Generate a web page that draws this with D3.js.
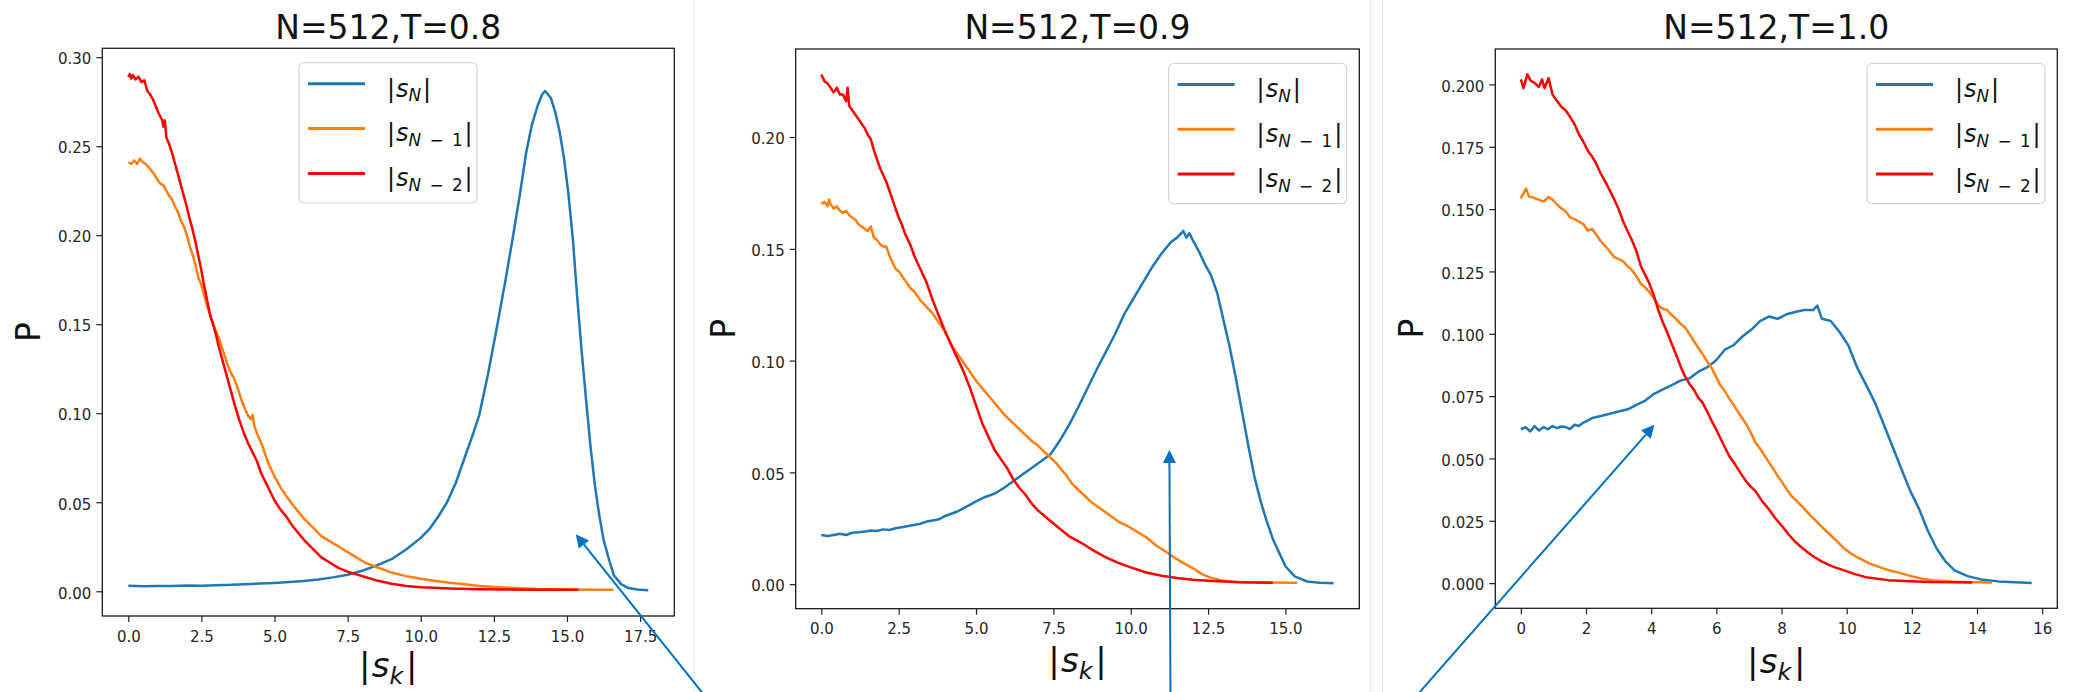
<!DOCTYPE html>
<html><head><meta charset="utf-8">
<script src="https://cdn.jsdelivr.net/npm/d3@7"></script>
<style>body{margin:0;background:#fff}svg{display:block}</style>
</head><body>
<svg id="chart" width="2073" height="692"></svg>
<script>
// ---------------- DATA ----------------
const titles = ["N=512,T=0.8", "N=512,T=0.9", "N=512,T=1.0"];
const xTicks08 = [0, 2.5, 5, 7.5, 10, 12.5, 15, 17.5];
const xTicks09 = [0, 2.5, 5, 7.5, 10, 12.5, 15];
const xTicks10 = [0, 2, 4, 6, 8, 10, 12, 14, 16];
const yTicks08 = [0, 0.05, 0.10, 0.15, 0.20, 0.25, 0.30];
const yTicks09 = [0, 0.05, 0.10, 0.15, 0.20];
const yTicks10 = [0, 0.025, 0.05, 0.075, 0.10, 0.125, 0.15, 0.175, 0.20];

// T = 0.8
const t08_sN_x = [0,0.5,1,1.5,2,2.5,3,3.5,4,4.5,5,5.5,6,6.5,7,7.5,8,8.5,9,9.5,10,10.3,10.6,10.9,11.2,11.5,11.8,12.0,12.3,12.6,12.9,13.15,13.4,13.6,13.8,14.0,14.15,14.25,14.35,14.45,14.6,14.75,14.9,15.05,15.2,15.35,15.5,15.65,15.8,15.95,16.1,16.25,16.45,16.6,16.85,17.1,17.4,17.78];
const t08_sN_p = [0.0031,0.0028,0.0030,0.0029,0.0032,0.0031,0.0034,0.0036,0.0040,0.0043,0.0047,0.0052,0.0058,0.0066,0.0078,0.0093,0.0115,0.0145,0.0180,0.0235,0.0300,0.0350,0.0420,0.0500,0.0610,0.0750,0.0890,0.0990,0.1220,0.1480,0.1750,0.1990,0.2240,0.2460,0.2620,0.2730,0.2790,0.2810,0.2790,0.2770,0.2690,0.2580,0.2430,0.2230,0.1980,0.1650,0.1350,0.1080,0.0820,0.0600,0.0430,0.0290,0.0170,0.0090,0.0040,0.0018,0.0010,0.0006];
const t08_sN1_x = [0,0.1,0.2,0.3,0.4,0.5,0.6,0.7,0.8,0.9,1.0,1.1,1.2,1.3,1.4,1.5,1.6,1.7,1.8,1.9,2.0,2.1,2.2,2.3,2.4,2.5,2.6,2.7,2.8,2.9,3.0,3.1,3.2,3.3,3.4,3.5,3.6,3.7,3.8,3.9,4.0,4.1,4.2,4.25,4.3,4.4,4.5,4.6,4.7,4.8,4.9,5.0,5.2,5.4,5.6,5.8,6.0,6.3,6.6,6.9,7.2,7.5,7.8,8.1,8.5,9.0,9.5,10.0,10.5,11.0,11.5,12.0,13.0,14.0,15.0,16.0,16.59];
const t08_sN1_p = [0.2410,0.2400,0.2420,0.2400,0.2430,0.2410,0.2400,0.2380,0.2360,0.2340,0.2310,0.2290,0.2280,0.2250,0.2220,0.2200,0.2160,0.2130,0.2080,0.2050,0.2000,0.1940,0.1890,0.1830,0.1760,0.1720,0.1660,0.1600,0.1550,0.1500,0.1460,0.1420,0.1370,0.1320,0.1270,0.1230,0.1200,0.1160,0.1110,0.1060,0.1020,0.0985,0.0965,0.0990,0.0935,0.0885,0.0850,0.0810,0.0760,0.0715,0.0680,0.0645,0.0585,0.0535,0.0490,0.0450,0.0410,0.0360,0.0310,0.0280,0.0250,0.0220,0.0190,0.0160,0.0135,0.0105,0.0085,0.0070,0.0058,0.0048,0.0040,0.0030,0.0020,0.0013,0.0010,0.0008,0.0008];
const t08_sN2_x = [0,0.05,0.1,0.15,0.25,0.35,0.45,0.55,0.65,0.75,0.85,0.95,1.05,1.15,1.2,1.25,1.3,1.4,1.5,1.6,1.7,1.8,1.9,2.0,2.1,2.2,2.3,2.4,2.5,2.6,2.7,2.8,2.9,3.0,3.1,3.2,3.35,3.5,3.65,3.8,3.95,4.1,4.25,4.4,4.55,4.7,4.85,5.0,5.2,5.4,5.6,5.8,6.0,6.3,6.6,6.9,7.2,7.5,7.8,8.1,8.5,9.0,9.5,10.0,11.0,12.0,13.0,14.0,15.39];
const t08_sN2_p = [0.2890,0.2905,0.2880,0.2900,0.2875,0.2890,0.2860,0.2870,0.2810,0.2790,0.2760,0.2720,0.2680,0.2650,0.2610,0.2645,0.2550,0.2510,0.2460,0.2400,0.2340,0.2280,0.2220,0.2160,0.2090,0.2030,0.1960,0.1880,0.1800,0.1710,0.1630,0.1550,0.1500,0.1440,0.1370,0.1310,0.1220,0.1130,0.1040,0.0960,0.0890,0.0830,0.0780,0.0730,0.0660,0.0610,0.0560,0.0510,0.0460,0.0420,0.0370,0.0330,0.0290,0.0240,0.0190,0.0160,0.0130,0.0110,0.0095,0.0080,0.0060,0.0042,0.0030,0.0022,0.0015,0.0011,0.0010,0.0009,0.0009];

// T = 0.9
const t09_sN_x = [0,0.2,0.4,0.6,0.8,1.0,1.2,1.4,1.6,1.8,2.0,2.2,2.4,2.6,2.8,3.0,3.2,3.4,3.6,3.8,4.0,4.2,4.4,4.6,4.8,5.0,5.3,5.6,5.9,6.2,6.5,6.8,7.1,7.4,7.7,8.0,8.3,8.6,8.9,9.2,9.5,9.8,10.1,10.4,10.7,11.0,11.3,11.5,11.7,11.8,11.9,12.0,12.2,12.4,12.6,12.8,13.0,13.2,13.4,13.6,13.8,14.0,14.2,14.4,14.6,14.8,15.0,15.3,15.7,16.1,16.56];
const t09_sN_p = [0.0220,0.0215,0.0220,0.0225,0.0220,0.0230,0.0232,0.0235,0.0240,0.0238,0.0245,0.0242,0.0250,0.0255,0.0260,0.0265,0.0270,0.0280,0.0285,0.0290,0.0305,0.0315,0.0325,0.0340,0.0355,0.0370,0.0390,0.0405,0.0430,0.0460,0.0490,0.0520,0.0550,0.0580,0.0640,0.0710,0.0790,0.0875,0.0960,0.1040,0.1120,0.1210,0.1280,0.1350,0.1420,0.1480,0.1530,0.1550,0.1580,0.1550,0.1570,0.1540,0.1490,0.1430,0.1380,0.1300,0.1180,0.1060,0.0920,0.0770,0.0620,0.0480,0.0370,0.0280,0.0200,0.0140,0.0080,0.0035,0.0012,0.0006,0.0004];
const t09_sN1_x = [0,0.1,0.2,0.25,0.3,0.4,0.5,0.6,0.7,0.8,0.9,1.0,1.1,1.2,1.3,1.4,1.5,1.6,1.7,1.8,1.9,2.0,2.1,2.2,2.3,2.4,2.5,2.6,2.7,2.8,2.9,3.0,3.2,3.4,3.6,3.8,4.0,4.2,4.4,4.6,4.8,5.0,5.3,5.6,5.9,6.2,6.5,6.8,7.0,7.3,7.6,7.9,8.1,8.4,8.7,9.0,9.3,9.6,9.9,10.2,10.5,10.8,11.1,11.4,11.7,12.0,12.3,12.6,12.9,13.2,13.6,14.0,14.5,15.38];
const t09_sN1_p = [0.1700,0.1710,0.1690,0.1720,0.1700,0.1680,0.1690,0.1670,0.1660,0.1670,0.1650,0.1640,0.1630,0.1610,0.1600,0.1590,0.1580,0.1600,0.1550,0.1540,0.1520,0.1510,0.1510,0.1470,0.1440,0.1410,0.1400,0.1380,0.1360,0.1340,0.1320,0.1310,0.1270,0.1240,0.1210,0.1170,0.1130,0.1070,0.1030,0.0990,0.0950,0.0910,0.0860,0.0810,0.0760,0.0720,0.0680,0.0640,0.0620,0.0580,0.0540,0.0490,0.0450,0.0410,0.0370,0.0340,0.0310,0.0280,0.0260,0.0235,0.0210,0.0175,0.0148,0.0120,0.0095,0.0072,0.0045,0.0028,0.0018,0.0012,0.0009,0.0008,0.0007,0.0006];
const t09_sN2_x = [0,0.1,0.2,0.3,0.4,0.5,0.6,0.7,0.8,0.85,0.9,1.0,1.1,1.2,1.3,1.4,1.5,1.6,1.7,1.8,1.9,2.0,2.1,2.2,2.3,2.4,2.5,2.6,2.7,2.8,2.9,3.0,3.2,3.4,3.6,3.8,4.0,4.2,4.4,4.6,4.8,5.0,5.2,5.4,5.6,5.8,6.0,6.2,6.4,6.6,6.8,7.0,7.3,7.6,8.0,8.4,8.8,9.2,9.6,10.0,10.5,11.0,11.5,12.0,12.5,13.5,14.59];
const t09_sN2_p = [0.2280,0.2250,0.2240,0.2220,0.2200,0.2220,0.2190,0.2190,0.2160,0.2220,0.2140,0.2120,0.2100,0.2080,0.2060,0.2040,0.2010,0.1990,0.1940,0.1900,0.1860,0.1830,0.1800,0.1760,0.1720,0.1680,0.1640,0.1610,0.1570,0.1540,0.1510,0.1470,0.1410,0.1350,0.1270,0.1200,0.1130,0.1070,0.1010,0.0950,0.0880,0.0800,0.0720,0.0660,0.0600,0.0560,0.0520,0.0470,0.0430,0.0400,0.0360,0.0330,0.0295,0.0260,0.0215,0.0185,0.0150,0.0120,0.0095,0.0075,0.0052,0.0038,0.0028,0.0020,0.0015,0.0008,0.0006];

// T = 1.0
const t10_sN_x = [0,0.15,0.29,0.42,0.56,0.7,0.83,0.97,1.11,1.24,1.38,1.51,1.65,1.78,1.92,2.19,2.46,2.73,3.0,3.28,3.55,3.82,4.09,4.36,4.63,4.9,5.17,5.44,5.71,5.98,6.26,6.53,6.8,7.07,7.34,7.61,7.88,8.15,8.42,8.69,8.97,9.1,9.24,9.51,9.78,10.05,10.32,10.6,10.87,11.14,11.41,11.68,11.95,12.22,12.49,12.76,13.04,13.31,13.71,14.12,14.66,15.34,15.68];
const t10_sN_p = [0.0617,0.0625,0.0608,0.0630,0.0612,0.0626,0.0617,0.0630,0.0622,0.0628,0.0626,0.0618,0.0635,0.0630,0.0644,0.0662,0.0670,0.0679,0.0688,0.0697,0.0715,0.0732,0.0759,0.0777,0.0794,0.0812,0.0821,0.0847,0.0865,0.0892,0.0936,0.0954,0.0989,0.1016,0.1051,0.1069,0.1060,0.1078,0.1087,0.1095,0.1095,0.1113,0.1060,0.1051,0.1007,0.0954,0.0865,0.0794,0.0723,0.0635,0.0547,0.0458,0.0370,0.0298,0.0210,0.0139,0.0086,0.0051,0.0028,0.0015,0.0007,0.0003,0.0001];
const t10_sN1_x = [0,0.16,0.25,0.36,0.5,0.7,0.85,0.97,1.1,1.24,1.38,1.51,1.65,1.78,1.92,2.05,2.19,2.32,2.46,2.59,2.73,2.86,3.0,3.14,3.28,3.41,3.55,3.68,3.82,3.95,4.09,4.22,4.36,4.49,4.63,4.76,4.9,5.04,5.17,5.31,5.44,5.58,5.71,5.85,5.98,6.12,6.26,6.39,6.53,6.66,6.8,6.93,7.07,7.2,7.34,7.48,7.61,7.75,7.88,8.02,8.15,8.29,8.5,8.7,8.9,9.1,9.3,9.51,9.72,9.92,10.12,10.32,10.53,10.73,10.93,11.14,11.34,11.54,11.75,11.95,12.3,12.63,13.31,14.46];
const t10_sN1_p = [0.1543,0.1582,0.1550,0.1547,0.1540,0.1530,0.1548,0.1538,0.1520,0.1503,0.1490,0.1467,0.1460,0.1450,0.1440,0.1414,0.1420,0.1396,0.1370,0.1352,0.1330,0.1308,0.1300,0.1290,0.1270,0.1255,0.1230,0.1201,0.1185,0.1166,0.1140,0.1113,0.1100,0.1095,0.1075,0.1060,0.1040,0.1025,0.1000,0.0971,0.0945,0.0918,0.0890,0.0865,0.0830,0.0794,0.0770,0.0741,0.0715,0.0688,0.0660,0.0635,0.0600,0.0564,0.0540,0.0511,0.0485,0.0458,0.0430,0.0405,0.0378,0.0352,0.0325,0.0298,0.0270,0.0245,0.0218,0.0192,0.0165,0.0139,0.0120,0.0104,0.0090,0.0077,0.0068,0.0058,0.0050,0.0044,0.0036,0.0029,0.0018,0.0012,0.0006,0.0003];
const t10_sN2_x = [0,0.08,0.2,0.3,0.43,0.55,0.65,0.73,0.85,0.97,1.1,1.24,1.38,1.51,1.65,1.78,1.92,2.05,2.19,2.32,2.46,2.59,2.73,2.86,3.0,3.14,3.28,3.41,3.55,3.68,3.82,3.95,4.09,4.22,4.36,4.49,4.63,4.76,4.9,5.04,5.17,5.31,5.44,5.58,5.71,5.85,5.98,6.12,6.26,6.39,6.53,6.66,6.8,6.93,7.07,7.2,7.4,7.6,7.8,8.02,8.22,8.42,8.63,8.83,9.04,9.24,9.58,9.92,10.25,10.59,11.27,11.95,12.62,13.3,13.85];
const t10_sN2_p = [0.2020,0.1985,0.2040,0.2015,0.2005,0.1990,0.2020,0.1985,0.2025,0.1960,0.1935,0.1910,0.1895,0.1870,0.1840,0.1800,0.1770,0.1735,0.1710,0.1680,0.1640,0.1610,0.1575,0.1540,0.1500,0.1450,0.1410,0.1375,0.1330,0.1272,0.1235,0.1200,0.1150,0.1095,0.1045,0.1006,0.0960,0.0918,0.0870,0.0829,0.0800,0.0776,0.0745,0.0723,0.0690,0.0652,0.0620,0.0582,0.0545,0.0511,0.0485,0.0458,0.0430,0.0405,0.0385,0.0369,0.0330,0.0298,0.0262,0.0228,0.0195,0.0166,0.0142,0.0121,0.0102,0.0086,0.0066,0.0051,0.0036,0.0024,0.0012,0.0008,0.0005,0.0004,0.0003];

const seriesColors = ["#1f77b4", "#ff7f0e", "#ff0000"];
const seriesSubs = [["N", ""], ["N", "1"], ["N", "2"]];

// ---------------- LAYOUT ----------------
const FONT = "DejaVu Sans";
const svg = d3.select("#chart");
svg.append("rect").attr("width", 2073).attr("height", 692).attr("fill", "#fff");

// faint borders of the three pasted images
[694.3, 1370.7, 1382.7].forEach(xx => {
  svg.append("line").attr("x1", xx).attr("x2", xx).attr("y1", 0).attr("y2", 692)
    .attr("stroke", "#e4e4e4").attr("stroke-width", 1);
});

const panels = [
  { title: titles[0], frame: [102.3, 674.3, 48.3, 616], xt: xTicks08, yt: yTicks08, xf: ".1f", yf: ".2f",
    data: [[t08_sN_x, t08_sN_p], [t08_sN1_x, t08_sN1_p], [t08_sN2_x, t08_sN2_p]],
    legendX: 299, ylabX: 40.2, xlabBase: 677 },
  { title: titles[1], frame: [795.7, 1359.3, 49, 608.7], xt: xTicks09, yt: yTicks09, xf: ".1f", yf: ".2f",
    data: [[t09_sN_x, t09_sN_p], [t09_sN1_x, t09_sN1_p], [t09_sN2_x, t09_sN2_p]],
    legendX: 1168.6, ylabX: 734.6, xlabBase: 672 },
  { title: titles[2], frame: [1495.3, 2057.3, 49, 608.3], xt: xTicks10, yt: yTicks10, xf: "d", yf: ".3f",
    data: [[t10_sN_x, t10_sN_p], [t10_sN1_x, t10_sN1_p], [t10_sN2_x, t10_sN2_p]],
    legendX: 1867, ylabX: 1422.9, xlabBase: 673 }
];

function mathLabel(textSel, sub, fs) {
  // renders |s_{sub}| in mathtext style
  const subFs = fs * 0.7, drop = fs * 0.2;
  textSel.append("tspan").text("|");
  textSel.append("tspan").attr("font-style", "italic").attr("dx", fs * 0.04).text("s");
  textSel.append("tspan").attr("font-style", "italic").attr("font-size", subFs).attr("dy", drop).text(sub[0]);
  if (sub[1]) {
    textSel.append("tspan").attr("font-size", subFs).text("\u2002\u2212\u2002" + sub[1]);
  }
  textSel.append("tspan").attr("dy", -drop).attr("dx", fs * 0.08).text("|");
}

panels.forEach((P, pi) => {
  const [fx0, fx1, fy0, fy1] = P.frame;
  const allX = P.data.flatMap(d => d[0]), allY = P.data.flatMap(d => d[1]);
  const xmin = d3.min(allX), xmax = d3.max(allX), ymin = d3.min(allY), ymax = d3.max(allY);
  const xp = (xmax - xmin) * 0.05, yp = (ymax - ymin) * 0.05;
  const x = d3.scaleLinear().domain([xmin - xp, xmax + xp]).range([fx0, fx1]);
  const y = d3.scaleLinear().domain([ymin - yp, ymax + yp]).range([fy1, fy0]);
  P.x = x; P.y = y;

  const g = svg.append("g");
  const clipId = "clip" + pi;
  g.append("clipPath").attr("id", clipId).append("rect")
    .attr("x", fx0).attr("y", fy0).attr("width", fx1 - fx0).attr("height", fy1 - fy0);

  // lines
  const line = d3.line().x(d => x(d[0])).y(d => y(d[1]));
  P.data.forEach((s, si) => {
    const pts = s[0].map((v, i) => [v, s[1][i]]);
    g.append("path").attr("d", line(pts)).attr("fill", "none")
      .attr("stroke", seriesColors[si]).attr("stroke-width", 2.5)
      .attr("stroke-linejoin", "round").attr("clip-path", `url(#${clipId})`);
  });

  // axes
  const gx = g.append("g").attr("transform", `translate(0,${fy1})`)
    .call(d3.axisBottom(x).tickValues(P.xt).tickFormat(d3.format(P.xf)).tickSize(6).tickPadding(9));
  const gy = g.append("g").attr("transform", `translate(${fx0},0)`)
    .call(d3.axisLeft(y).tickValues(P.yt).tickFormat(d3.format(P.yf)).tickSize(6).tickPadding(5));
  [gx, gy].forEach(a => {
    a.select(".domain").remove();
    a.attr("font-family", FONT).attr("font-size", 15).attr("color", "#222");
    a.selectAll("line").attr("stroke-width", 1.2);
    a.selectAll("text").attr("fill", "#262626");
  });
  gy.selectAll("text").attr("dy", "0.45em");

  // frame
  g.append("rect").attr("x", fx0).attr("y", fy0).attr("width", fx1 - fx0).attr("height", fy1 - fy0)
    .attr("fill", "none").attr("stroke", "#1a1a1a").attr("stroke-width", 1.3);

  // title
  g.append("text").attr("x", (fx0 + fx1) / 2).attr("y", 38.8).attr("text-anchor", "middle")
    .attr("font-family", FONT).attr("font-size", 33).attr("fill", "#111").text(P.title);

  // y label
  g.append("text").attr("transform", `translate(${P.ylabX},${(fy0 + fy1) / 2}) rotate(-90)`)
    .attr("text-anchor", "middle").attr("font-family", FONT).attr("font-size", 33).attr("fill", "#111").text("P");

  // x label
  const xl = g.append("text").attr("x", (fx0 + fx1) / 2).attr("y", P.xlabBase).attr("text-anchor", "middle")
    .attr("font-family", FONT).attr("font-size", 34).attr("fill", "#111");
  mathLabel(xl, ["k", ""], 34);

  // legend
  const lx = P.legendX, ly = fy0 + 14.4;
  const lg = g.append("g");
  lg.append("rect").attr("x", lx).attr("y", ly).attr("width", 178).attr("height", 140.3).attr("rx", 5)
    .attr("fill", "#fff").attr("fill-opacity", 0.8).attr("stroke", "#d6d6d6").attr("stroke-width", 1.2);
  seriesColors.forEach((c, si) => {
    const ry = ly + 21.1 + si * 44.8;
    lg.append("line").attr("x1", lx + 9).attr("x2", lx + 66).attr("y1", ry).attr("y2", ry)
      .attr("stroke", c).attr("stroke-width", 3);
    const t = lg.append("text").attr("x", lx + 88).attr("y", ry + 12.8)
      .attr("font-family", FONT).attr("font-size", 24).attr("fill", "#111");
    mathLabel(t, seriesSubs[si], 24);
  });
});

// ---------------- ANNOTATION ARROWS ----------------
const arrowColor = "#0070c0";
const arrowTips = [
  { panel: 0, px: 15.3, py: 0.032, tail: [708.1, 700] },
  { panel: 1, px: 11.25, py: 0.060, tail: [1170.5, 700] },
  { panel: 2, px: 4.1, py: 0.0635, tail: [1412.8, 700] }
];
arrowTips.forEach(a => {
  const P = panels[a.panel];
  const tx = P.x(a.px), ty = P.y(a.py);
  const [sx, sy] = a.tail;
  const len = Math.hypot(tx - sx, ty - sy);
  const ux = (tx - sx) / len, uy = (ty - sy) / len;
  const hl = 13, hw = 6.5;
  const bx = tx - ux * hl, by = ty - uy * hl;
  svg.append("line").attr("x1", sx).attr("y1", sy).attr("x2", bx).attr("y2", by)
    .attr("stroke", arrowColor).attr("stroke-width", 2);
  svg.append("path")
    .attr("d", `M${tx},${ty}L${bx - uy * hw},${by + ux * hw}L${bx + uy * hw},${by - ux * hw}Z`)
    .attr("fill", arrowColor);
});
</script>
</body></html>
